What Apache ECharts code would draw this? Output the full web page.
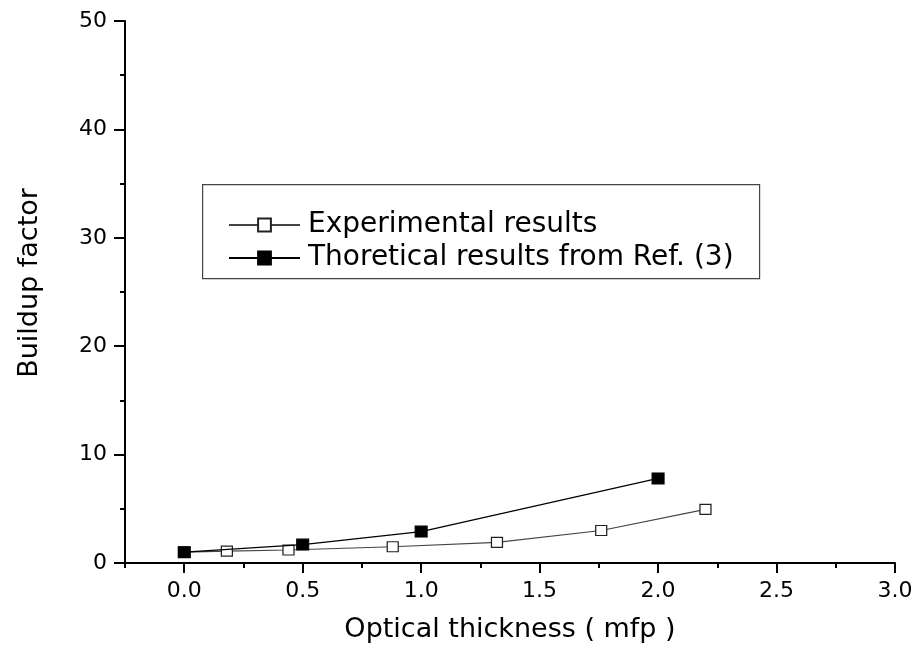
<!DOCTYPE html>
<html>
<head>
<meta charset="utf-8">
<script src="https://cdn.jsdelivr.net/npm/echarts@6/dist/echarts.min.js"></script>
<style>html,body{margin:0;padding:0;background:#fff;}#chart{width:918px;height:648px;}</style>
</head>
<body>
<div id="chart"></div>
<script>
// Data
var expX = [0, 0.18, 0.44, 0.88, 1.32, 1.76, 2.2];
var expY = [1.0, 1.1, 1.2, 1.5, 1.9, 3.0, 4.95];
var theoX = [0, 0.5, 1.0, 2.0];
var theoY = [1.0, 1.7, 2.9, 7.8];
var seriesNames = ['Experimental results', 'Thoretical results from Ref. (3)'];
var xTicks = [0.0, 0.5, 1.0, 1.5, 2.0, 2.5, 3.0];
var xMinorTicks = [-0.25, 0.25, 0.75, 1.25, 1.75, 2.25, 2.75];
var yTicks = [0, 10, 20, 30, 40, 50];
var yMinorTicks = [5, 15, 25, 35, 45];

function pairs(xs, ys) { return xs.map(function (x, i) { return [x, ys[i]]; }); }

var FONT = 'DejaVu Sans';
var AX = '#000';
var chart = echarts.init(document.getElementById('chart'), null, { renderer: 'canvas' });
chart.setOption({
  animation: false,
  backgroundColor: '#ffffff',
  grid: { left: 125, right: 23, top: 21, bottom: 85, containLabel: false },
  graphic: [{
    type: 'rect', left: 202, top: 184, z: 0,
    shape: { width: 557, height: 94 },
    style: { fill: '#fff', stroke: '#444', lineWidth: 1.2 }
  }],
  legend: {
    orient: 'vertical', left: 223, top: 206, itemGap: 5,
    itemWidth: 71, itemHeight: 16, z: 5,
    textStyle: { fontFamily: FONT, fontSize: 28, color: '#000', padding: [0, 0, 0, 3] },
    data: [seriesNames[0], seriesNames[1]]
  },
  xAxis: [{
    type: 'value', min: -0.25, max: 3.0,
    name: 'Optical thickness ( mfp )', nameLocation: 'middle', nameGap: 53,
    nameTextStyle: { fontFamily: FONT, fontSize: 27, color: '#000' },
    axisLine: { show: true, onZero: false, lineStyle: { color: AX, width: 2 } },
    axisTick: { show: true, inside: false, length: 10, customValues: xTicks, lineStyle: { color: AX, width: 2 } },
    splitLine: { show: false },
    axisLabel: {
      fontFamily: FONT, fontSize: 22, color: '#000', margin: 17,
      customValues: xTicks,
      formatter: function (v) { return v.toFixed(1); }
    }
  }, {
    type: 'value', min: -0.25, max: 3.0, position: 'bottom', offset: 0,
    axisLine: { show: false, onZero: false },
    axisTick: { show: true, inside: false, length: 5, customValues: xMinorTicks, lineStyle: { color: AX, width: 2 } },
    axisLabel: { show: false },
    splitLine: { show: false }
  }],
  yAxis: [{
    type: 'value', min: 0, max: 50,
    name: 'Buildup factor', nameLocation: 'middle', nameGap: 82,
    nameTextStyle: { fontFamily: FONT, fontSize: 27, color: '#000', padding: [0, 0, 0, 18] },
    axisLine: { show: true, onZero: false, lineStyle: { color: AX, width: 2 } },
    axisTick: { show: true, inside: false, length: 11, customValues: yTicks, lineStyle: { color: AX, width: 2 } },
    splitLine: { show: false },
    axisLabel: {
      fontFamily: FONT, fontSize: 22, color: '#000', margin: 18,
      customValues: yTicks,
      formatter: function (v) { return String(v); }
    }
  }, {
    type: 'value', min: 0, max: 50, position: 'left', offset: 0,
    axisLine: { show: false, onZero: false },
    axisTick: { show: true, inside: false, length: 5, customValues: yMinorTicks, lineStyle: { color: AX, width: 2 } },
    axisLabel: { show: false },
    splitLine: { show: false }
  }],
  series: [
    {
      name: seriesNames[0], type: 'line', data: pairs(expX, expY),
      symbol: 'rect', symbolSize: [11, 10], z: 3,
      lineStyle: { color: '#444', width: 1.2 },
      itemStyle: { color: '#fff', borderColor: '#222', borderWidth: 1.2 }
    },
    {
      name: seriesNames[1], type: 'line', data: pairs(theoX, theoY),
      symbol: 'rect', symbolSize: [12, 11], z: 4,
      lineStyle: { color: '#000', width: 1.2 },
      itemStyle: { color: '#000', borderColor: '#000', borderWidth: 1 }
    }
  ]
});
</script>
</body>
</html>
